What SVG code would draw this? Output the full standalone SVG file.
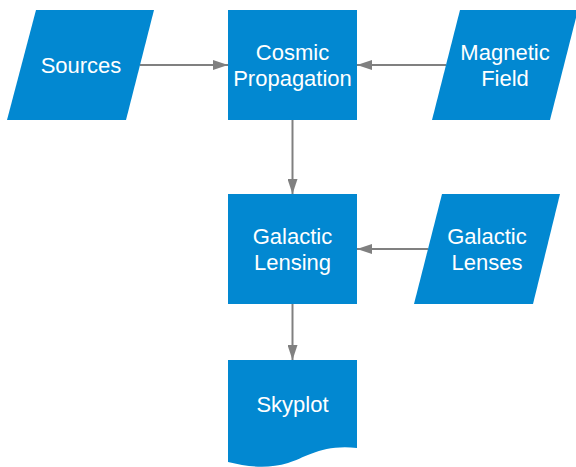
<svg xmlns="http://www.w3.org/2000/svg" width="576" height="467" viewBox="0 0 576 467">
<defs>
<style>
.n{fill:#0288D1;}
.t{fill:#ffffff;font-family:"Liberation Sans",Arial,sans-serif;font-size:22px;text-anchor:middle;}
.e{stroke:#808080;stroke-width:2;fill:none;}
</style>
<marker id="ah" markerWidth="15" markerHeight="10" refX="15" refY="5" orient="auto" markerUnits="userSpaceOnUse">
<path d="M0,0 L15,5 L0,10 Z" fill="#808080"/>
</marker>
</defs>
<rect width="576" height="467" fill="#ffffff"/>
<g id="edges">
<line class="e" x1="140" y1="65" x2="228" y2="65" marker-end="url(#ah)"/>
<line class="e" x1="446" y1="65" x2="357" y2="65" marker-end="url(#ah)"/>
<line class="e" x1="292.5" y1="120" x2="292.5" y2="194" marker-end="url(#ah)"/>
<line class="e" x1="428" y1="249" x2="357" y2="249" marker-end="url(#ah)"/>
<line class="e" x1="292.5" y1="304" x2="292.5" y2="360" marker-end="url(#ah)"/>
</g>
<g id="sources">
<polygon class="n" points="36,10 154,10 126,120 7,120"/>
<text class="t" x="81" y="73">Sources</text>
</g>
<g id="cosmic-propagation">
<rect class="n" x="228" y="10" width="129" height="110"/>
<text class="t" x="292.5" y="60">Cosmic</text>
<text class="t" x="292.5" y="86">Propagation</text>
</g>
<g id="magnetic-field">
<polygon class="n" points="460,10 578,10 550,120 432,120"/>
<text class="t" x="505" y="60">Magnetic</text>
<text class="t" x="505" y="86">Field</text>
</g>
<g id="galactic-lensing">
<rect class="n" x="228" y="194" width="129" height="110"/>
<text class="t" x="292.5" y="244">Galactic</text>
<text class="t" x="292.5" y="270">Lensing</text>
</g>
<g id="galactic-lenses">
<polygon class="n" points="442,194 560,194 533,304 414,304"/>
<text class="t" x="487" y="244">Galactic</text>
<text class="t" x="487" y="270">Lenses</text>
</g>
<g id="skyplot">
<path class="n" d="M228,360 L357,360 L357,448 C322,444 305,458 288,463 C268,469 248,467 228,462 Z"/>
<text class="t" x="292.5" y="412">Skyplot</text>
</g>
</svg>
